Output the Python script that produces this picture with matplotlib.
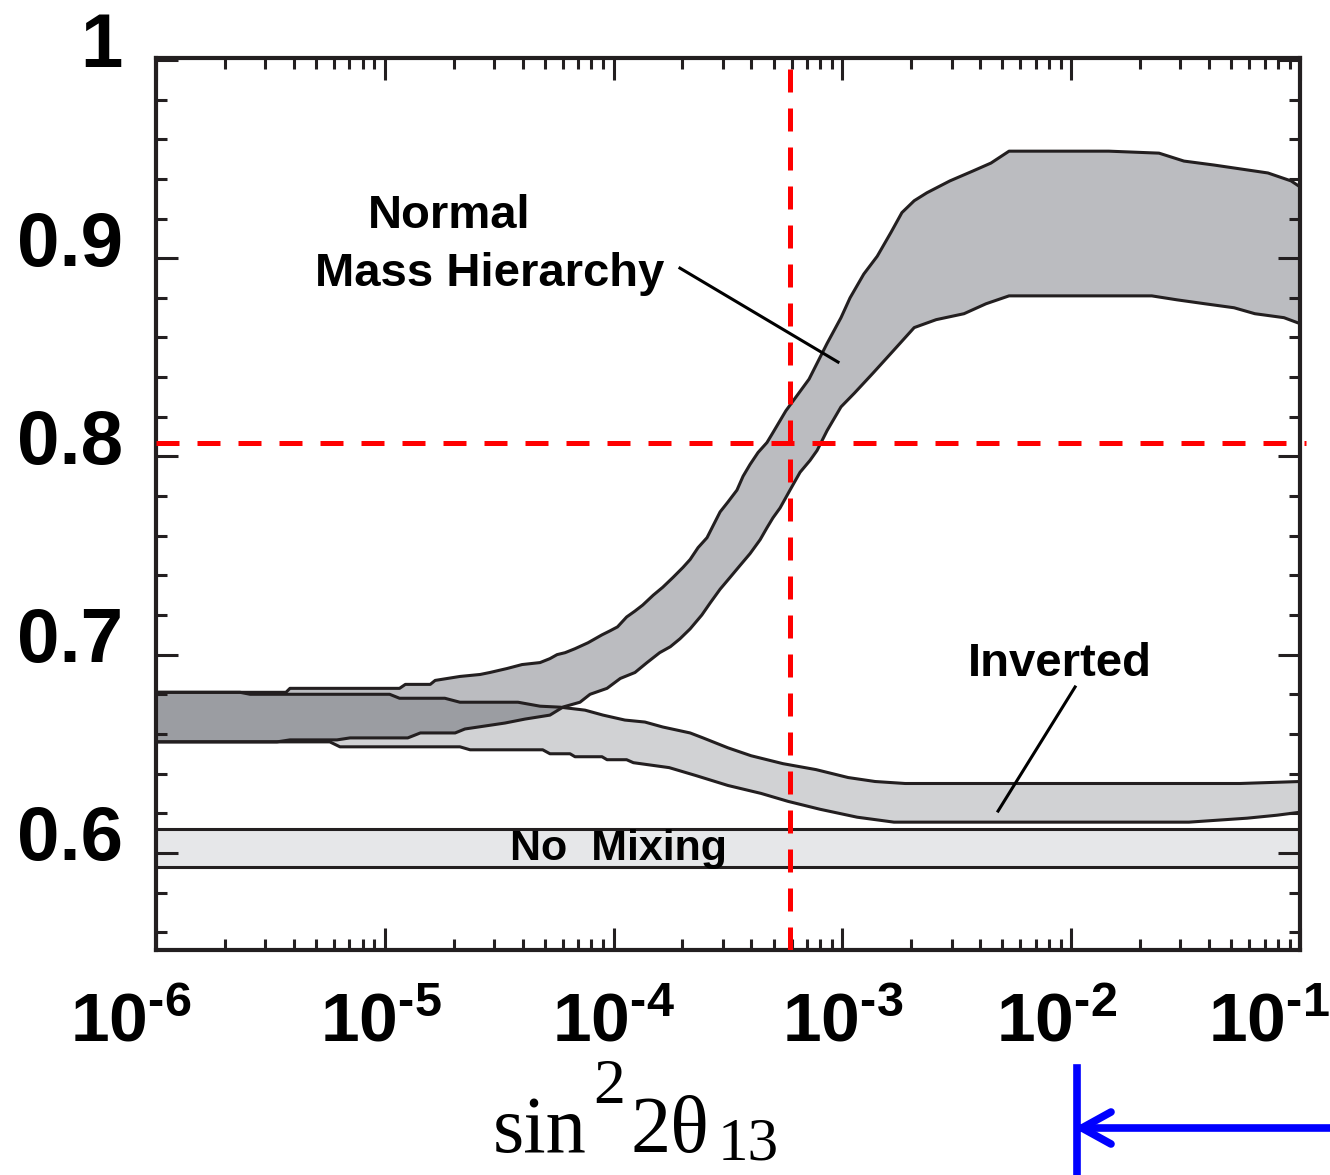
import numpy as np
import matplotlib
matplotlib.use("Agg")
import matplotlib.pyplot as plt
from matplotlib.ticker import FixedLocator, NullFormatter, MultipleLocator
from matplotlib.transforms import ScaledTranslation
from matplotlib.lines import Line2D

plt.rcParams['font.family'] = ['Liberation Sans', 'DejaVu Sans']
plt.rcParams['mathtext.fontset'] = 'custom'
plt.rcParams['mathtext.bf'] = 'Liberation Sans:bold'
plt.rcParams['mathtext.rm'] = 'Liberation Sans:bold'

# normal mass hierarchy band
nh_upper_x = [1.0e-6, 3.7e-6, 3.85e-6, 1.16e-5, 1.23e-5, 1.58e-5, 1.66e-5, 2.13e-5, 2.61e-5, 2.88e-5,
              3.42e-5, 3.98e-5, 4.77e-5, 5.27e-5, 5.66e-5, 6.14e-5, 6.78e-5, 7.73e-5, 8.9e-5, 9.64e-5,
              1.04e-4, 1.14e-4, 1.24e-4, 1.34e-4, 1.49e-4, 1.64e-4, 1.82e-4, 2.01e-4, 2.16e-4, 2.34e-4,
              2.56e-4, 2.72e-4, 2.92e-4, 3.16e-4, 3.46e-4, 3.68e-4, 3.95e-4, 4.28e-4, 4.68e-4, 4.97e-4,
              5.66e-4, 7.15e-4, 8.57e-4, 9.86e-4, 1.08e-3, 1.24e-3, 1.42e-3, 1.63e-3, 1.82e-3, 2.06e-3,
              2.34e-3, 2.95e-3, 3.72e-3, 4.46e-3, 5.35e-3, 1.46e-2, 2.42e-2, 3.11e-2, 4.21e-2, 5.52e-2,
              7.24e-2, 9.14e-2, 1.0e-1]
nh_upper_y = [0.681, 0.681, 0.683, 0.683, 0.685, 0.685, 0.687, 0.689, 0.690, 0.691,
              0.693, 0.695, 0.696, 0.698, 0.700, 0.701, 0.703, 0.706, 0.710, 0.712,
              0.714, 0.719, 0.722, 0.725, 0.730, 0.734, 0.739, 0.744, 0.748, 0.754,
              0.759, 0.765, 0.772, 0.777, 0.783, 0.790, 0.796, 0.802, 0.807, 0.812,
              0.823, 0.839, 0.857, 0.870, 0.880, 0.892, 0.901, 0.913, 0.923, 0.929,
              0.933, 0.939, 0.944, 0.948, 0.954, 0.954, 0.953, 0.949, 0.947, 0.945,
              0.943, 0.939, 0.936]
nh_lower_x = [1.0e-6, 3.38e-6, 3.85e-6, 6.18e-6, 7.05e-6, 1.26e-5, 1.43e-5, 2.03e-5, 2.24e-5, 2.74e-5,
              3.35e-5, 4.10e-5, 5.27e-5, 6.02e-5, 7.13e-5, 7.89e-5, 9.36e-5, 1.07e-4, 1.24e-4, 1.40e-4,
              1.59e-4, 1.77e-4, 1.95e-4, 2.16e-4, 2.43e-4, 2.64e-4, 2.92e-4, 3.23e-4, 3.57e-4, 3.95e-4,
              4.37e-4, 4.68e-4, 4.97e-4, 5.34e-4, 5.90e-4, 6.53e-4, 7.22e-4, 7.75e-4, 8.57e-4, 9.86e-4,
              1.13e-3, 1.36e-3, 1.63e-3, 2.06e-3, 2.57e-3, 3.40e-3, 4.24e-3, 5.35e-3, 2.25e-2, 2.90e-2,
              3.85e-2, 5.15e-2, 6.35e-2, 8.51e-2, 1.0e-1]
nh_lower_y = [0.656, 0.656, 0.657, 0.657, 0.658, 0.658, 0.6605, 0.6605, 0.6625, 0.664,
              0.6655, 0.6675, 0.6695, 0.6736, 0.676, 0.680, 0.683, 0.688, 0.691, 0.696,
              0.701, 0.704, 0.708, 0.713, 0.720, 0.726, 0.733, 0.739, 0.745, 0.751,
              0.758, 0.764, 0.769, 0.774, 0.783, 0.792, 0.798, 0.803, 0.813, 0.825,
              0.832, 0.842, 0.852, 0.865, 0.869, 0.872, 0.877, 0.881, 0.881, 0.879,
              0.877, 0.875, 0.872, 0.870, 0.867]

# inverted hierarchy band
ih_upper_x = [1.0e-6, 2.33e-6, 2.58e-6, 1.05e-5, 1.16e-5, 1.83e-5, 2.13e-5, 3.82e-5, 4.77e-5, 5.84e-5,
              7.5e-5, 8.99e-5, 1.12e-4, 1.37e-4, 1.64e-4, 2.16e-4, 2.46e-4, 3.16e-4, 3.99e-4, 5.50e-4,
              7.67e-4, 1.06e-3, 1.39e-3, 1.88e-3, 5.47e-2, 1.0e-1]
ih_upper_y = [0.681, 0.681, 0.680, 0.680, 0.678, 0.678, 0.676, 0.676, 0.674, 0.6735,
              0.672, 0.6695, 0.667, 0.666, 0.6635, 0.6605, 0.658, 0.653, 0.649, 0.645,
              0.642, 0.638, 0.636, 0.635, 0.635, 0.636]
ih_lower_x = [1.0e-6, 5.75e-6, 6.37e-6, 2.13e-5, 2.36e-5, 4.9e-5, 5.27e-5, 6.45e-5, 6.78e-5, 8.90e-5,
              9.36e-5, 1.14e-4, 1.22e-4, 1.75e-4, 2.29e-4, 3.16e-4, 4.41e-4, 5.78e-4, 7.98e-4, 1.16e-3,
              1.68e-3, 3.27e-2, 5.87e-2, 7.93e-2, 1.0e-1]
ih_lower_y = [0.656, 0.656, 0.6535, 0.6535, 0.652, 0.652, 0.650, 0.650, 0.6485, 0.6485,
              0.647, 0.647, 0.6455, 0.643, 0.639, 0.634, 0.630, 0.626, 0.622, 0.618,
              0.6155, 0.6155, 0.6175, 0.619, 0.6205]

# no mixing band
nomix_lo = 0.593
nomix_hi = 0.612

# dashed reference lines
ref_x = 5.9e-4
ref_y = 0.807

x_major = [1e-6, 1e-5, 1e-4, 1e-3, 1e-2, 1e-1]
x_labels = [r'$\mathbf{10^{\text{-}6}}$', r'$\mathbf{10^{\text{-}5}}$', r'$\mathbf{10^{\text{-}4}}$',
            r'$\mathbf{10^{\text{-}3}}$', r'$\mathbf{10^{\text{-}2}}$', r'$\mathbf{10^{\text{-}1}}$']
x_label_shift = [-25, -4, 0, 0, -15, -31]   # px
y_major = [0.6, 0.7, 0.8, 0.9, 1.0]
y_labels = ['0.6', '0.7', '0.8', '0.9', '1']

W, H = 1330, 1175
ink = '#231f20'

fig = plt.figure(figsize=(W / 100, H / 100), dpi=100)
ax = fig.add_axes([156 / W, 1 - 950 / H, (1300 - 156) / W, (950 - 58) / H])
ax.set_xscale('log')
ax.set_xlim(1e-6, 1e-1)
ax.set_ylim(0.551, 1.001)

# bands (alpha so that the overlap gets darker)
ax.axhspan(nomix_lo, nomix_hi, color='#e6e7e9', lw=0, zorder=1)
ax.fill(np.r_[ih_upper_x, ih_lower_x[::-1]], np.r_[ih_upper_y, ih_lower_y[::-1]],
        facecolor=(25 / 255, 30 / 255, 40 / 255, 0.2), lw=0, zorder=1)
ax.fill(np.r_[nh_upper_x, nh_lower_x[::-1]], np.r_[nh_upper_y, nh_lower_y[::-1]],
        facecolor=(32 / 255, 35 / 255, 48 / 255, 0.3), lw=0, zorder=1)

for xs, ys in [(nh_upper_x, nh_upper_y), (nh_lower_x, nh_lower_y),
               (ih_upper_x, ih_upper_y), (ih_lower_x, ih_lower_y)]:
    ax.plot(xs, ys, color=ink, lw=2.2, zorder=2)
ax.axhline(nomix_lo, color=ink, lw=2.2, zorder=2)
ax.axhline(nomix_hi, color=ink, lw=2.2, zorder=2)

# red dashed lines
ax.axvline(ref_x, color='#ff0000', lw=3.6, dashes=(4.6, 3.2), zorder=3)
ax.axhline(ref_y, xmax=1.005, color='#ff0000', lw=3.6, dashes=(4.6, 3.6), zorder=3, clip_on=False)

# labels inside the plot
ax.text(1.91e-5, 0.9151, 'Normal', fontsize=34, fontweight='bold', ha='center', va='baseline', zorder=4)
ax.text(2.88e-5, 0.8859, 'Mass Hierarchy', fontsize=34, fontweight='bold', ha='center', va='baseline', zorder=4)
ax.plot([1.95e-4, 9.57e-4], [0.895, 0.8476], color='black', lw=2.2, zorder=4)
ax.text(8.93e-3, 0.6892, 'Inverted', fontsize=34, fontweight='bold', ha='center', va='baseline', zorder=4)
ax.plot([1.04e-2, 4.79e-3], [0.6837, 0.6211], color='black', lw=2.2, zorder=4)
ax.text(1.05e-4, 0.5963, 'No  Mixing', fontsize=31, fontweight='bold', ha='center', va='baseline', zorder=4)

# axes styling
for sp in ax.spines.values():
    sp.set_linewidth(3)
    sp.set_color(ink)
ax.xaxis.set_major_locator(FixedLocator(x_major))
ax.xaxis.set_minor_locator(FixedLocator([m * 10.0 ** e for e in range(-6, -1) for m in range(2, 10)]))
ax.xaxis.set_minor_formatter(NullFormatter())
ax.set_xticks(x_major, x_labels)
ax.set_yticks(y_major, y_labels)
ax.yaxis.set_minor_locator(MultipleLocator(0.02))
ax.tick_params(which='both', direction='in', top=True, right=True, color=ink, width=2.2)
ax.tick_params(which='major', length=16)
ax.tick_params(which='minor', length=8)
ax.tick_params(axis='x', labelsize=50, pad=30)
ax.tick_params(axis='y', labelsize=55, pad=24)
for lab in ax.get_yticklabels():
    lab.set_fontweight('bold')
    lab.set_transform(lab.get_transform() + ScaledTranslation(0, 0.2, fig.dpi_scale_trans))
for lab, dx in zip(ax.get_xticklabels(), x_label_shift):
    lab.set_transform(lab.get_transform() + ScaledTranslation(dx / 100, 0, fig.dpi_scale_trans))

# x axis title: sin^2 2theta_13
serif = ['Liberation Serif', 'DejaVu Serif']
fig.text(493 / W, 1 - 1152 / H, 'sin', family=serif, fontsize=58, va='baseline')
fig.text(593 / W, 1 - 1103 / H, '2', family=serif, fontsize=46, va='baseline')
fig.text(630 / W, 1 - 1152 / H, '2\u03b8', family=serif, fontsize=58, va='baseline')
fig.text(718 / W, 1 - 1160 / H, '13', family=serif, fontsize=44, va='baseline')

# blue marker below the axis
blue = '#0000ff'
fig.add_artist(Line2D([1077 / W, 1077 / W], [1 - 1068 / H, 0], transform=fig.transFigure,
                      color=blue, lw=5.5))
fig.add_artist(Line2D([1082 / W, 1.0], [1 - 1128 / H, 1 - 1128 / H], transform=fig.transFigure,
                      color=blue, lw=5.5))
fig.add_artist(Line2D([1111 / W, 1082 / W, 1111 / W], [1 - 1112 / H, 1 - 1128 / H, 1 - 1144 / H],
                      transform=fig.transFigure, color=blue, lw=5.5,
                      solid_capstyle='round', solid_joinstyle='miter'))

fig.savefig('out.png', dpi=100)
